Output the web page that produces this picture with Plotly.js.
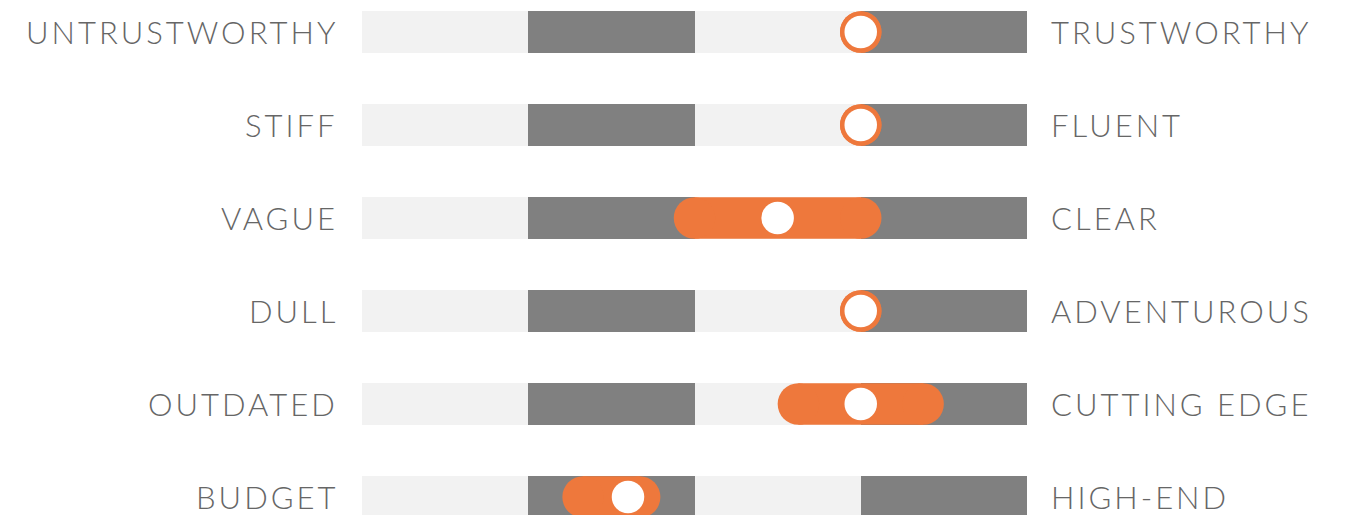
<!DOCTYPE html>
<html>
<head>
<meta charset="utf-8">
<script src="https://cdn.plot.ly/plotly-3.0.1.min.js"></script>
<style>
html,body{margin:0;padding:0;background:#fff;}
#chart{width:1352px;height:515px;}
.annotation-text{letter-spacing:3px;}
</style>
</head>
<body>
<div id="chart"></div>
<script>
// ---- data ----
const leftLabels  = ['UNTRUSTWORTHY','STIFF','VAGUE','DULL','OUTDATED','BUDGET'];
const rightLabels = ['TRUSTWORTHY','FLUENT','CLEAR','ADVENTUROUS','CUTTING EDGE','HIGH-END'];
const scores    = [4, 4, 3.5, 4, 4, 2.6];
const rangeLow  = [4, 4, 3, 4, 3.625, 2.33];
const rangeHigh = [4, 4, 4, 4, 4.375, 2.67];
const bandStart = [1, 2, 3, 4];
const bandColors = ['#f2f2f2', '#808080', '#f2f2f2', '#808080'];

const rows = leftLabels.map((_, i) => i);
const ORANGE = '#ee783c';
const BAR_PX = 41.5;
const ROW_PX = 93;

const traces = [];
bandStart.forEach((b, k) => {
  traces.push({
    type: 'bar', orientation: 'h',
    y: rows, x: rows.map(() => 1), base: rows.map(() => b),
    width: BAR_PX / ROW_PX,
    marker: {color: bandColors[k], line: {width: 0}},
    hoverinfo: 'skip', showlegend: false
  });
});

const lx = [], ly = [];
rows.forEach(i => { lx.push(rangeLow[i], rangeHigh[i], null); ly.push(i, i, null); });
traces.push({
  type: 'scatter', mode: 'lines+markers', x: lx, y: ly,
  line: {color: ORANGE, width: BAR_PX},
  marker: {color: ORANGE, size: BAR_PX, line: {width: 0}},
  cliponaxis: false, hoverinfo: 'skip', showlegend: false
});
traces.push({
  type: 'scatter', mode: 'markers', x: scores, y: rows,
  marker: {color: '#ffffff', size: 32.5, line: {width: 0}},
  cliponaxis: false, hoverinfo: 'skip', showlegend: false
});

const labelFont = {family: 'Lato, "Open Sans", sans-serif', size: 31, color: '#666666', weight: 300};
const annotations = [];
rows.forEach(i => {
  annotations.push({xref: 'paper', yref: 'y', x: 0, y: i, xanchor: 'right', yanchor: 'middle',
    xshift: -22, text: leftLabels[i], showarrow: false, font: labelFont});
  annotations.push({xref: 'paper', yref: 'y', x: 1, y: i, xanchor: 'left', yanchor: 'middle',
    xshift: 22, text: rightLabels[i], showarrow: false, font: labelFont});
});

const firstRowPx = 32;
const layout = {
  width: 1352, height: 515,
  margin: {l: 362, r: 325, t: 0, b: 0, pad: 0},
  paper_bgcolor: '#ffffff', plot_bgcolor: '#ffffff',
  barmode: 'overlay', bargap: 0,
  xaxis: {range: [1, 5], visible: false, fixedrange: true},
  yaxis: {range: [(515 - firstRowPx) / ROW_PX, -firstRowPx / ROW_PX], visible: false, fixedrange: true},
  annotations: annotations,
  showlegend: false
};

Plotly.newPlot('chart', traces, layout, {displayModeBar: false, staticPlot: true});
</script>
</body>
</html>
